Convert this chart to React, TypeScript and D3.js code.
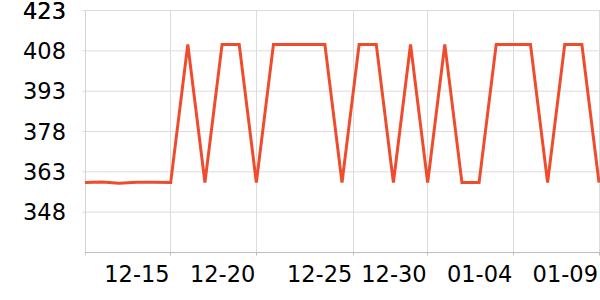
import React from "react";
import * as d3 from "d3";

const startDate = "2023-12-10";
const values: number[] = [
  359.0, 359.2, 358.8, 359.1, 359.1, 359.0,
  410.4, 359.0, 410.4, 410.4, 359.0,
  410.4, 410.4, 410.4, 410.4, 359.0,
  410.4, 410.4, 359.0, 410.4, 359.0,
  410.4, 359.0, 359.0, 410.4, 410.4,
  410.4, 359.0, 410.4, 410.4, 359.0,
];
const yTicks = [348, 363, 378, 393, 408, 423];
const yDomain = [333, 423];
const xTickDates = [
  "2023-12-15T00:00",
  "2023-12-20T00:00",
  "2023-12-25T15:50",
  "2023-12-30T00:00",
  "2024-01-04T00:00",
  "2024-01-09T00:00",
];
const xTickLabels = ["12-15", "12-20", "12-25", "12-30", "01-04", "01-09"];

export default function App() {
  const W = 600;
  const H = 300;
  const left = 85;
  const right = 599;
  const top = 10.5;
  const bottom = 252.5;

  const start = new Date(startDate + "T00:00");
  const dates = values.map((_, i) => d3.timeDay.offset(start, i));
  const x = d3
    .scaleTime()
    .domain([dates[0], dates[dates.length - 1]])
    .range([left, right]);
  const y = d3.scaleLinear().domain(yDomain).range([bottom, top]);

  const line = d3
    .line<number>()
    .x((_, i) => x(dates[i]))
    .y((d) => y(d));

  const tickDates = xTickDates.map((s) => new Date(s));
  const fontFamily = "DejaVu Sans, sans-serif";
  const fs = 22.5;

  return (
    <svg
      width={W}
      height={H}
      style={{ position: "absolute", left: 0, top: 0, background: "#fff" }}
    >
      {/* horizontal gridlines */}
      {yTicks.concat([423]).map((t, i) => (
        <line
          key={"hg" + i}
          x1={left - 2.5}
          x2={W}
          y1={y(t)}
          y2={y(t)}
          stroke="#dcdcdc"
          strokeWidth={1}
        />
      ))}
      {/* vertical gridlines */}
      {tickDates.map((d, i) => {
        const px = Math.floor(x(d)) + 0.5;
        return (
          <g key={"vg" + i}>
            <line x1={px} x2={px} y1={top} y2={bottom} stroke="#dcdcdc" strokeWidth={1} />
            <line x1={px} x2={px} y1={bottom} y2={bottom + 3} stroke="#bdbdbd" strokeWidth={1} />
          </g>
        );
      })}
      {/* left axis */}
      <line x1={left + 0.5} x2={left + 0.5} y1={top} y2={bottom + 3} stroke="#d4d4d4" strokeWidth={1} />
      {/* bottom axis */}
      <line x1={left} x2={W} y1={bottom} y2={bottom} stroke="#bdbdbd" strokeWidth={1} />

      {/* y labels */}
      {yTicks.concat([423]).map((t, i) => (
        <text
          key={"yl" + i}
          x={66}
          y={y(t)}
          dy="0.36em"
          textAnchor="end"
          fontFamily={fontFamily}
          fontSize={fs}
          fill="#000"
        >
          {t}
        </text>
      ))}
      {/* x labels */}
      {tickDates.map((d, i) => (
        <text
          key={"xl" + i}
          x={x(d) - 1}
          y={282}
          textAnchor="end"
          fontFamily={fontFamily}
          fontSize={fs}
          fill="#000"
        >
          {xTickLabels[i]}
        </text>
      ))}

      <path
        d={line(values) || ""}
        fill="none"
        stroke="#ef4b2d"
        strokeWidth={3}
      />
    </svg>
  );
}
